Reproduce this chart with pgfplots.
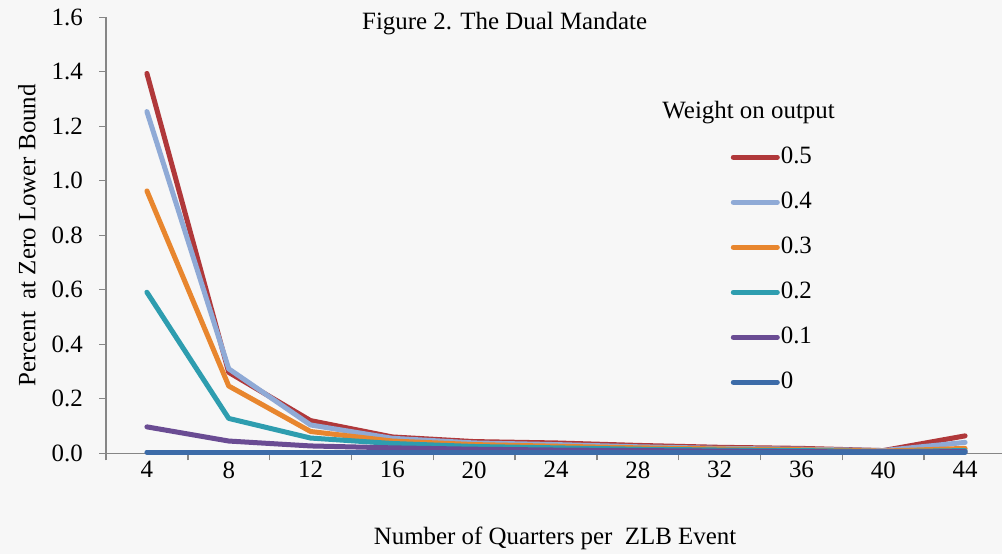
\documentclass[border=0pt]{standalone}
\usepackage{pgfplots}
\pgfplotsset{compat=1.18}
\usepackage{fontspec}
\setmainfont{Liberation Serif}
\definecolor{bg}{HTML}{F7F7F7}
\definecolor{axgray}{HTML}{868686}
\definecolor{cA}{HTML}{B0383A}
\definecolor{cB}{HTML}{8FAAD6}
\definecolor{cC}{HTML}{E8862E}
\definecolor{cD}{HTML}{2E9DAF}
\definecolor{cE}{HTML}{6A4C93}
\definecolor{cF}{HTML}{3C6BA8}
\newcommand{\ff}{\fontsize{25}{29}\selectfont}
\begin{document}
\begin{tikzpicture}
\useasboundingbox (0,0) rectangle (1002bp,554bp);
\fill[bg] (0,0) rectangle (1002bp,554bp);
\begin{axis}[
  at={(106bp,100.7bp)}, anchor=south west,
  scale only axis, width=900bp, height=436bp,
  xmin=-0.5, xmax=10.5, ymin=0, ymax=1.6,
  axis lines*=left,
  axis line style={axgray, line width=1.4bp},
  every tick/.style={axgray, line width=1.4bp},
  tick align=outside,
  xtick={0,...,10},
  xticklabels={4,8,12,16,20,24,28,32,36,40,44},
  major x tick style={draw=none},
  minor xtick={-0.5,0.5,...,10.5},
  minor tick length=7bp,
  ytick={0,0.2,...,1.6},
  major tick length=7bp,
  yticklabel style={/pgf/number format/.cd, fixed, fixed zerofill, precision=1, /tikz/.cd, inner sep=0pt, xshift=-16bp},
  xticklabel style={inner sep=0pt, yshift=-1bp},
  /pgf/number format/assume math mode=true,
  tick label style={font=\ff},
  label style={font=\ff},
  title style={font=\ff, at={(axis description cs:0.443,0.973)}, anchor=center},
  title={Figure 2. The Dual Mandate},
  xlabel={Number of Quarters per\ \ ZLB Event},
  xlabel style={at={(axis description cs:0.499,-0.195)}, anchor=center},
  ylabel={Percent\ \ at Zero Lower Bound},
  ylabel style={at={(axis description cs:-0.0878,0.5)}, anchor=center},
  clip=false,
  every axis plot/.append style={line width=5bp, line cap=round, line join=round},
  legend style={at={(axis description cs:0.694,0.707)}, anchor=north west, draw=none, fill=none, inner sep=0pt,
    font=\ff,
    nodes={inner sep=1bp, text height=17bp, text depth=5bp},
    row sep=21bp},
  legend cell align=left,
  legend image code/.code={\draw[#1, line width=5bp] (0bp,0bp) -- (44bp,0bp);},
]
\addplot[cA] coordinates {(0,1.394) (1,0.297) (2,0.120) (3,0.060) (4,0.043) (5,0.038) (6,0.029) (7,0.022) (8,0.018) (9,0.010) (10,0.064)};
\addlegendentry{0.5}
\addplot[cB] coordinates {(0,1.254) (1,0.310) (2,0.104) (3,0.055) (4,0.038) (5,0.032) (6,0.024) (7,0.018) (8,0.015) (9,0.010) (10,0.040)};
\addlegendentry{0.4}
\addplot[cC] coordinates {(0,0.963) (1,0.247) (2,0.080) (3,0.045) (4,0.032) (5,0.026) (6,0.020) (7,0.016) (8,0.013) (9,0.008) (10,0.018)};
\addlegendentry{0.3}
\addplot[cD] coordinates {(0,0.591) (1,0.128) (2,0.056) (3,0.036) (4,0.025) (5,0.020) (6,0.015) (7,0.012) (8,0.010) (9,0.006) (10,0.010)};
\addlegendentry{0.2}
\addplot[cE] coordinates {(0,0.097) (1,0.045) (2,0.027) (3,0.020) (4,0.015) (5,0.012) (6,0.010) (7,0.008) (8,0.006) (9,0.005) (10,0.006)};
\addlegendentry{0.1}
\addplot[cF] coordinates {(0,0.004) (1,0.004) (2,0.004) (3,0.004) (4,0.004) (5,0.004) (6,0.004) (7,0.004) (8,0.004) (9,0.004) (10,0.004)};
\addlegendentry{0}
\node[font=\ff, anchor=center] at (axis description cs:0.714,0.782) {Weight on output};
\end{axis}
\end{tikzpicture}
\end{document}
